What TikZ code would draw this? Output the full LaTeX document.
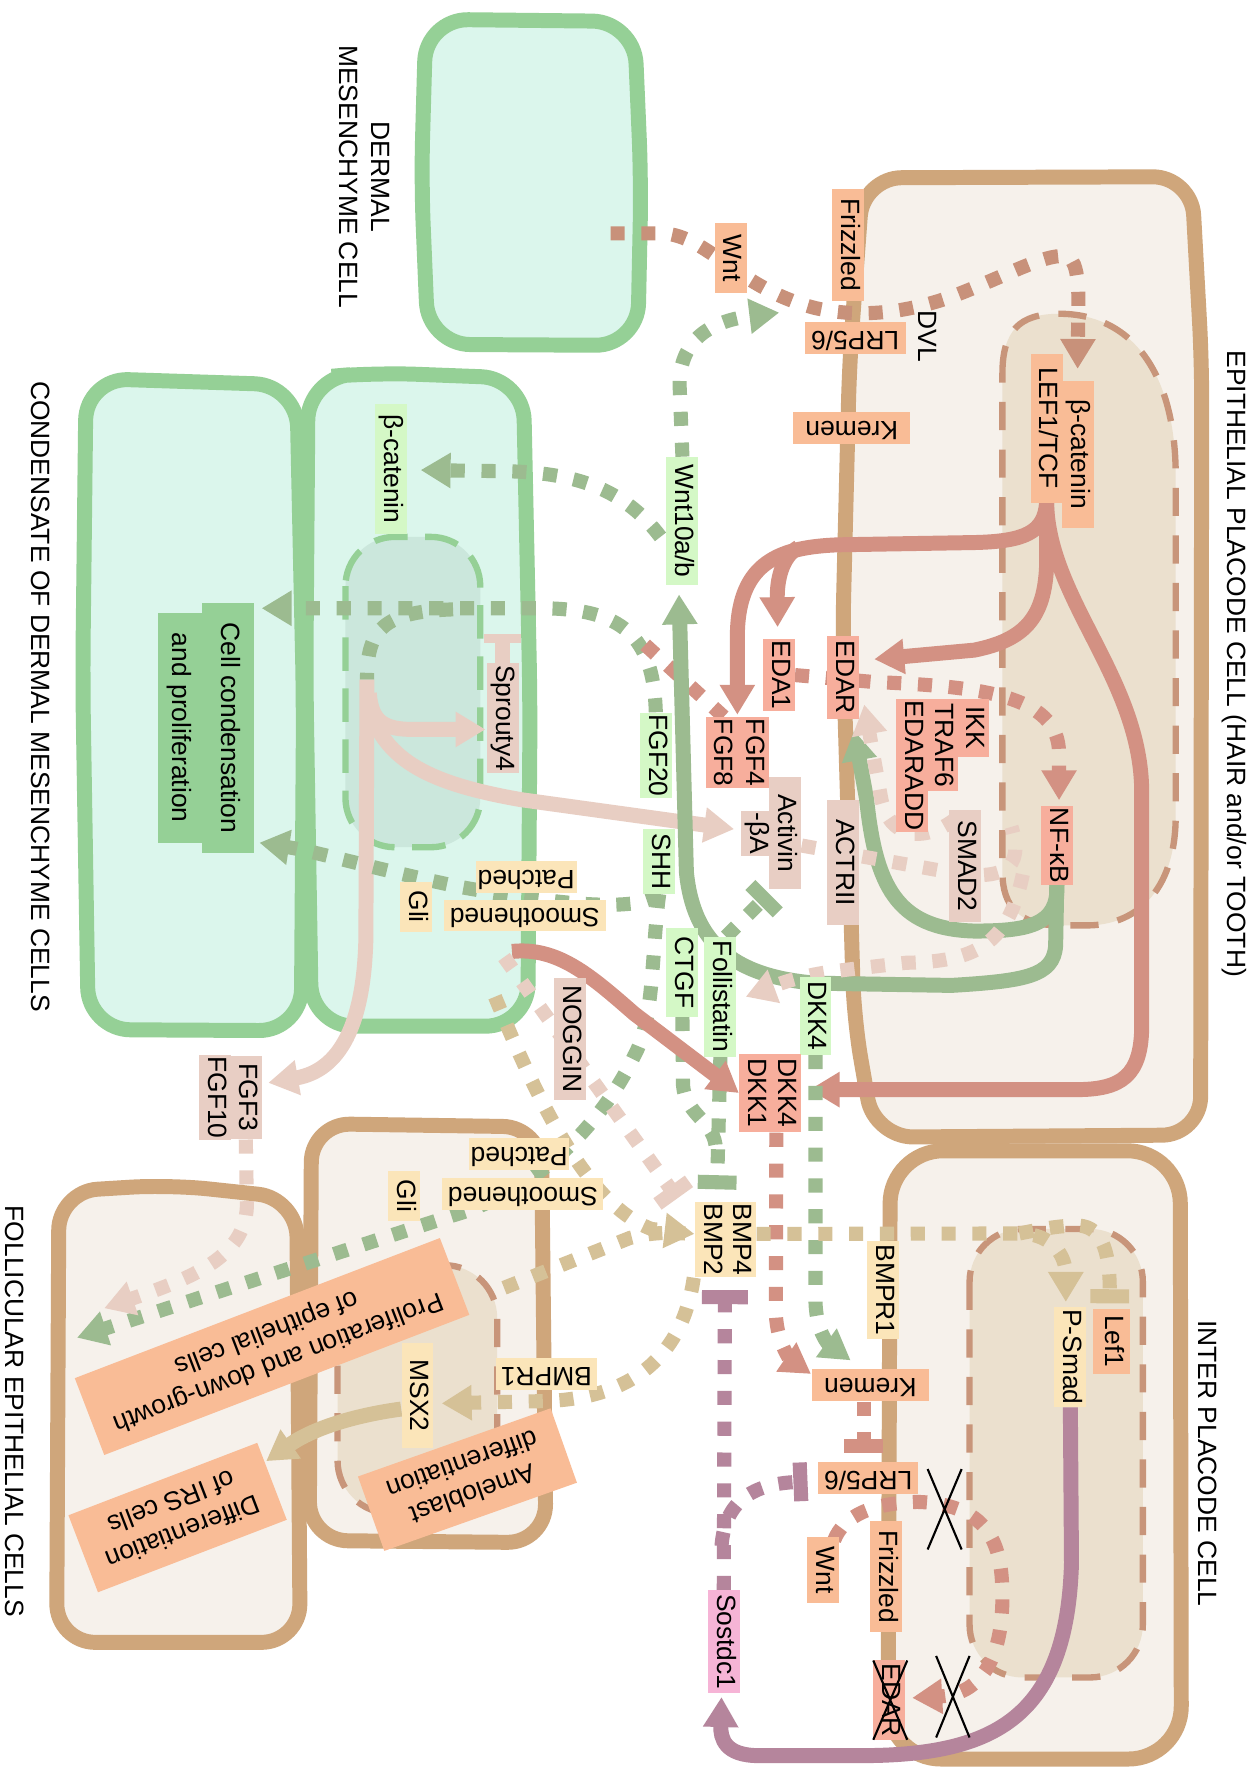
\documentclass[tikz,border=0pt]{standalone}
\usepackage{fontspec}
\setmainfont{Liberation Sans}
\usetikzlibrary{arrows.meta,calc}
\pgfdeclarelayer{cells}
\pgfdeclarelayer{links}
\pgfsetlayers{cells,links,main}

\definecolor{cgline}{HTML}{95D096}
\definecolor{cgfill}{HTML}{DBF6EC}
\definecolor{cgnuc}{HTML}{CBE7DC}
\definecolor{ctline}{HTML}{CFA67B}
\definecolor{ctfill}{HTML}{F6F1EB}
\definecolor{ctnuc}{HTML}{EBE0CE}
\definecolor{cnucdash}{HTML}{C8957A}
\definecolor{csage}{HTML}{9CBB90}
\definecolor{csalmon}{HTML}{D39183}
\definecolor{cwnt}{HTML}{C8917A}
\definecolor{cpale}{HTML}{E8CEC3}
\definecolor{ctan}{HTML}{D5C197}
\definecolor{cmauve}{HTML}{B5859C}
\definecolor{borange}{HTML}{F9BC96}
\definecolor{bsalmon}{HTML}{F7AE9C}
\definecolor{bpale}{HTML}{E8CEC4}
\definecolor{blgreen}{HTML}{D4F8C6}
\definecolor{bgreen}{HTML}{95D096}
\definecolor{byellow}{HTML}{FBE5B9}
\definecolor{bpink}{HTML}{F6B4D6}

\tikzset{
  cellG/.style={draw=cgline, fill=cgfill, line width=8.5pt, rounded corners=24pt},
  cellT/.style={draw=ctline, fill=ctfill, line width=8.5pt, rounded corners=22pt},
  nucG/.style={draw=cgline, fill=cgnuc, line width=3.6pt, dash pattern=on 19pt off 10pt},
  nucT/.style={draw=cnucdash, fill=ctnuc, line width=3.6pt, dash pattern=on 16pt off 11pt},
  solidarr/.style={line width=8.5pt, -{Triangle[width=19pt,length=17pt]}},
  dotline/.style={line width=8pt, dash pattern=on 8pt off 9.5pt},
  dotarr/.style={dotline, -{Triangle[width=19pt,length=17pt]}},
  dotbar/.style={dotline, -{Bar[width=22pt,line width=8pt]}},
  lbl/.style={inner xsep=1pt, inner ysep=2.2pt, text height=10.6pt, text depth=3.1pt},
  vert/.style={rotate=-90},
  flip/.style={rotate=180},
  boxlen/.style={minimum width=#1*0.643pt},
  bigbox/.style={fill=borange, align=center, inner sep=0pt},
  crossmark/.style={black, line width=1.2pt},
}

\begin{document}
\begin{tikzpicture}[x=0.0226cm, y=-0.0226cm, font=\fontsize{15}{18}\selectfont]
\useasboundingbox (0,0) rectangle (1108,1568);

\begin{pgfonlayer}{cells}
\fill[white] (0,0) rectangle (1108,1568);
% dermal mesenchyme cell
\draw[cellG] (376,17) -- (560,19) -- (566,160) -- (563,305) -- (378,304) -- (372,160) -- cycle;
% condensate cells
\draw[cellG] (76,334) -- (262,340) -- (268,620) -- (266,910) -- (78,909) -- (73,600) -- cycle;
\draw[cellG] (272,334) -- (330,329) -- (462,334) -- (468,620) -- (466,906) -- (275,906) -- (270,600) -- cycle;
\draw[nucG, rounded corners=28pt] (305,474) rectangle (424,748);
% epithelial placode cell
\draw[cellT] (762,157) -- (1052,156) -- (1061,320) -- (1060,1002) -- (772,1004) -- (754,900) -- (744,560) -- (750,320) -- cycle;
\draw[nucT] (885,330) .. controls (885,292) and (900,277) .. (935,277) .. controls (1000,277) and (1038,330) .. (1038,420) -- (1038,720) .. controls (1038,790) and (1000,817) .. (960,817) -- (935,817) .. controls (900,817) and (885,800) .. (885,770) -- cycle;
% inter placode cell
\draw[cellT, rounded corners=30pt] (786,1016) -- (1042,1016) -- (1043,1553) -- (784,1553) -- cycle;
\draw[nucT, rounded corners=30pt] (856,1085) rectangle (1009,1481);
% follicular epithelial cells
\draw[cellT] (52,1052) -- (150,1046) -- (262,1058) -- (265,1450) -- (50,1450) -- cycle;
\draw[cellT] (275,992) -- (478,995) -- (482,1362) -- (273,1360) -- cycle;
\draw[nucT, rounded corners=30pt] (298,1117) rectangle (439,1336);
\end{pgfonlayer}

% titles
\node[rotate=-90, align=center] (tDerm) at (322,156) {DERMAL\\MESENCHYME CELL};
\node[rotate=-90] (tCond) at (35.5,615) {CONDENSATE OF DERMAL MESENCHYME CELLS};
\node[rotate=-90] (tEpi) at (1090,586) {EPITHELIAL PLACODE CELL (HAIR and/or TOOTH)};
\node[rotate=-90] (tInter) at (1066,1292) {INTER PLACODE CELL};
\node[rotate=-90] (tFoll) at (13.2,1246) {FOLLICULAR EPITHELIAL CELLS};

% placode (top)
\node[lbl, vert, fill=borange, boxlen=61.5] (wntA) at (645,228) {Wnt};
\node[lbl, vert, fill=borange, boxlen=99] (frzA) at (749,216) {Frizzled};
\node[lbl, flip, fill=borange, boxlen=89] (lrpA) at (755,298.6) {LRP5/6};
\node[lbl, vert] (dvl) at (817,297) {DVL};
\node[lbl, flip, fill=borange, boxlen=103.6] (kremA) at (752,378) {Kremen};
\node[lbl, vert, fill=borange, boxlen=130] (bcatA) at (951.4,401) {β-catenin};
\node[lbl, vert, fill=borange, boxlen=131.5] (lefA) at (924,378) {LEF1/TCF};
\node[lbl, vert, fill=blgreen, boxlen=113] (wnt10) at (602.5,460) {Wnt10a/b};
\node[lbl, vert, fill=bsalmon, boxlen=62] (eda1) at (687.5,596) {EDA1};
\node[lbl, vert, fill=bsalmon, boxlen=61] (fgf4) at (665,664.5) {FGF4};
\node[lbl, vert, fill=bsalmon, boxlen=61] (fgf8) at (637,664.5) {FGF8};
\node[lbl, vert, fill=bpale, boxlen=99] (activ) at (693.4,735.5) {Activin};
\node[lbl, vert, fill=bpale, boxlen=39] (actba) at (668.5,736) {-βA};
\node[lbl, vert, fill=bsalmon, boxlen=72.7] (edarA) at (744.5,598) {EDAR};
\node[lbl, vert, fill=bsalmon, anchor=west, boxlen=111.5] (edaradd) at (805,617) {EDARADD};
\node[lbl, vert, fill=bsalmon, anchor=west, boxlen=81] (traf6) at (832,617) {TRAF6};
\node[lbl, vert, fill=bsalmon, anchor=west, boxlen=50.7] (ikk) at (859,617) {IKK};
\node[lbl, vert, fill=bsalmon, boxlen=69] (nfkb) at (933,746.4) {NF-κB};
\node[lbl, vert, fill=bpale, boxlen=110] (actrii) at (744.5,761.5) {ACTRII};
\node[lbl, vert, fill=bpale, boxlen=99] (smad2) at (852,764.5) {SMAD2};
\node[lbl, vert, fill=blgreen, boxlen=57] (shh) at (582,760.5) {SHH};
\node[lbl, vert, fill=blgreen, boxlen=78] (ctgf) at (602.5,858.5) {CTGF};
\node[lbl, vert, fill=blgreen, boxlen=105.5] (follis) at (636,880) {Follistatin};
\node[lbl, vert, fill=blgreen, boxlen=68.4] (dkkG) at (720,897) {DKK4};
\node[lbl, vert, fill=bsalmon, boxlen=69.5] (dkk4) at (693.4,965) {DKK4};
\node[lbl, vert, fill=bsalmon, boxlen=69.5] (dkk1) at (666.7,965) {DKK1};
\node[lbl, vert, fill=blgreen, boxlen=75] (fgf20) at (579,667) {FGF20};

% condensate
\node[lbl, vert, fill=blgreen, boxlen=115] (bcatB) at (345,414) {β-catenin};
\node[lbl, vert, fill=bpale, boxlen=91] (spry) at (444,634) {Sprouty4};
\node[lbl, vert, fill=bgreen, boxlen=221, minimum height=29.6pt] (cond1) at (201,642.5) {Cell condensation};
\node[lbl, vert, fill=bgreen, boxlen=203, minimum height=25pt] (cond2) at (158.5,642.5) {and proliferation};
\node[lbl, flip, fill=byellow, boxlen=89] (patA) at (464.5,774) {Patched};
\node[lbl, flip, fill=byellow, boxlen=142.7] (smoA) at (463.3,808.3) {Smoothened};
\node[lbl, vert, fill=byellow, boxlen=44] (gliA) at (367,800.5) {Gli};
\node[lbl, vert, fill=bpale, boxlen=107.5] (noggin) at (503.5,917) {NOGGIN};
\node[lbl, vert, fill=bpale, boxlen=73.5] (fgf3) at (217,969) {FGF3};
\node[lbl, vert, fill=bpale, boxlen=73.5] (fgf10) at (190,969) {FGF10};

% follicle
\node[lbl, flip, fill=byellow, boxlen=88.7] (patB) at (458.4,1018.6) {Patched};
\node[lbl, flip, fill=byellow, boxlen=142] (smoB) at (461.6,1054.3) {Smoothened};
\node[lbl, vert, fill=byellow, boxlen=44] (gliB) at (356.5,1055.7) {Gli};
\node[lbl, vert, fill=byellow, boxlen=92] (msx2) at (368.6,1232) {MSX2};
\node[lbl, flip, fill=byellow, boxlen=88.8] (bmpr1B) at (482.4,1213) {BMPR1};
\node[lbl, vert, fill=byellow, boxlen=64] (bmp4) at (653.6,1094.4) {BMP4};
\node[lbl, vert, fill=byellow, boxlen=64] (bmp2) at (627.5,1094.4) {BMP2};
\node[bigbox, rotate=201, minimum width=222pt, minimum height=46.7pt] (prolif) at (240.2,1188.8) {Proliferation and down-growth\\of epithelial cells};
\node[bigbox, rotate=201, minimum width=114.8pt, minimum height=46.8pt] (irs) at (156.8,1339.8) {Differentiation\\of IRS cells};
\node[bigbox, rotate=199.5, minimum width=116pt, minimum height=44.8pt] (amelo) at (412.7,1306.3) {Ameloblast\\differentiation};

% inter placode
\node[lbl, flip, fill=borange, boxlen=103] (kremB) at (768.5,1223) {Kremen};
\node[lbl, flip, fill=borange, boxlen=88.5] (lrpB) at (766.5,1305) {LRP5/6};
\node[lbl, vert, fill=borange, boxlen=98] (frzB) at (782.3,1392) {Frizzled};
\node[lbl, vert, fill=borange, boxlen=58] (wntB) at (726.5,1386) {Wnt};
\node[lbl, vert, fill=bsalmon, boxlen=70] (edarB) at (785,1501) {EDAR};
\node[lbl, vert, fill=byellow, boxlen=87] (bmpr1A) at (779.5,1139) {BMPR1};
\node[lbl, vert, fill=byellow, boxlen=88.5] (psmad) at (945,1198) {P-Smad};
\node[lbl, vert, fill=borange, boxlen=57, minimum height=21pt] (lef1) at (981.7,1184.5) {Lef1};
\node[lbl, vert, fill=bpink, boxlen=91] (sost) at (639,1449.5) {Sostdc1};

\coordinate (wntsrc) at (539,206);
\coordinate (fgfnuc) at (324,600);
\coordinate (fgftop) at (651,631);
\coordinate (nogsrc) at (452,840);
\coordinate (bmpbar) at (633,1050);
\coordinate (sostbar) at (640,1139);

\begin{pgfonlayer}{links}
% Wnt signal to the placode
\draw[dotarr, cwnt] (wntsrc) -- (585,206) .. controls (625,208) and (652,255) .. (720,272) .. controls (760,281) and (800,276) .. (840,262) .. controls (890,243) and (920,225) .. (940,226) .. controls (955,228) and (952,265) .. ($(bcatA.west)+(0,-10)$);
\draw[dotarr, csage] (wnt10.west) -- (600,340) .. controls (600,298) and (630,283) .. (688,276);
\draw[dotarr, csage] ($(wnt10.south)+(-5,14)$) .. controls (550,430) and (505,417) .. (445,416) -- ($(bcatB.north)+(12,1)$);
% FGF20
\draw[dotarr, csage] (fgf20.west) .. controls (577,560) and (548,538) .. (480,537) -- (231,537);
\draw[dotline, csage] (400,538) .. controls (338,540) and (324,556) .. (fgfnuc);
\draw[dotline, csalmon] ($(fgf8.west)+(2,0)$) -- (566,566);
% condensate nucleus outputs
\draw[solidarr, cpale] (fgfnuc) -- (323,830) .. controls (321,905) and (300,945) .. ($(fgf3.north)+(5.5,-13)$);
\draw[solidarr, cpale] (326,612) .. controls (328,638) and (340,644) .. (365,644) -- ($(spry.south)+(-1,10)$);
\draw[solidarr, cpale] (326,625) .. controls (340,672) and (380,692) .. (460,706) -- ($(actba.south)+(-6,-4)$);
\draw[cpale, line width=8.5pt, -{Bar[width=21pt,line width=5.5pt]}] (spry.west) -- ++(0,-26);
% SHH
\draw[dotarr, csage] (shh.east) .. controls (565,805) and (500,800) .. (406,783) .. controls (330,767) and (280,752) .. (229,744);
\draw[dotarr, csage] (shh.east) .. controls (575,840) and (578,900) .. (560,932) .. controls (535,985) and (480,1050) .. (400,1073) -- (68,1181);
\draw[dotarr, cpale] (fgf3.east) -- (218,1065) .. controls (216,1110) and (170,1128) .. (92,1155);
% LEF1/TCF targets
\draw[solidarr, csalmon] (lefA.east) .. controls (922,470) and (905,478) .. (860,479) -- (740,481) .. controls (690,483) and (652,495) .. (651,560) -- (fgftop);
\draw[solidarr, csalmon] (705,483) .. controls (690,492) and (686,512) .. ($(eda1.west)+(-1,-10)$);
\draw[solidarr, csalmon] (lefA.east) -- (924,500) .. controls (922,545) and (905,565) .. (860,574) -- ($(edarA.north)+(13,-16)$);
\draw[solidarr, csalmon] (lefA.east) .. controls (926,530) and (1008,600) .. (1008,700) -- (1008,905) .. controls (1008,950) and (990,962) .. (950,962) -- ($(dkk4.north)+(7,-3)$);
% NF-kB targets
\draw[solidarr, csage] (nfkb.east) .. controls (935,818) and (905,822) .. (860,822) .. controls (790,820) and (773,780) .. (765,705) -- (754,645);
\draw[solidarr, csage] (nfkb.east) -- (932,835) .. controls (930,862) and (905,866) .. (840,870) -- (720,868) .. controls (645,862) and (612,830) .. (606,770) -- ($(wnt10.east)+(-3,8)$);
\draw[dotarr, csalmon] (eda1.north) -- (770,602) .. controls (860,606) and (935,612) .. (935,665) -- ($(nfkb.west)+(2,-5)$);
% activin loop
\draw[dotline, cpale] ($(activ.north)+(0,11)$) -- (838,770) .. controls (885,778) and (905,768) .. (893,730);
\draw[dotarr, cpale] ($(smad2.west)+(-8,8)$) .. controls (815,745) and (785,740) .. (778,705) -- (763,622);
\draw[dotarr, cpale] (903,772) .. controls (890,835) and (860,849) .. (800,850) -- (740,857) .. controls (700,862) and (680,872) .. ($(follis.north)+(8,0)$);
\draw[dotbar, csage] ($(follis.west)+(5,0)$) -- (679,789);
% BMP inhibitors
\draw[dotline, csage] (ctgf.east) -- (603,958) .. controls (605,985) and (632,990) .. (632,1015);
\draw[dotbar, csage] (follis.east) -- (bmpbar);
\draw[dotarr, csage] (dkkG.east) -- (720,1150) .. controls (721,1178) and (733,1188) .. (751,1201);
\draw[dotarr, csalmon] ($(dkk4.east)+(-8,0)$) -- (685,1160) .. controls (686,1188) and (700,1202) .. (716,1213);
\draw[solidarr, csalmon] (nogsrc) .. controls (492,836) and (520,860) .. (560,895) -- (dkk1.south);
\draw[dotbar, cpale] (445,845) -- (598,1058);
% BMP
\draw[dotarr, ctan] (437,880) .. controls (470,960) and (515,1062) .. (575,1085) -- ($(bmp2.south)+(0,-5)$);
\draw[dotline, ctan] (445,1137) -- (556,1093) .. controls (575,1088) and (590,1088) .. (605,1089);
\draw[dotarr, ctan] ($(bmp2.east)+(-15,0)$) .. controls (603,1195) and (560,1235) .. (480,1237) -- ($(msx2.north)+(7,7)$);
\draw[dotarr, ctan] ($(bmp4.north)+(0,-5)$) -- (900,1089) .. controls (930,1089) and (941,1110) .. ($(psmad.west)+(-4,-4)$);
\draw[dotbar, ctan] (900,1089) .. controls (920,1085) and (935,1082) .. (952,1082) .. controls (975,1083) and (980,1110) .. ($(lef1.west)+(-2,-5)$);
\draw[solidarr, ctan] ($(msx2.south)+(0,12)$) .. controls (310,1250) and (275,1262) .. (235,1290);
% Sostdc1
\draw[solidarr, cmauve] (psmad.east) -- (946,1380) .. controls (942,1515) and (880,1550) .. (760,1550) -- (670,1550) .. controls (640,1550) and (636,1535) .. ($(sost.east)+(-2,3)$);
\draw[dotline, cmauve, -{Bar[width=26pt,line width=8pt]}] (sost.west) -- (sostbar);
\draw[dotbar, cmauve] (637,1365) .. controls (640,1325) and (665,1310) .. ($(lrpB.east)+(-9,3)$);
% Wnt in the inter placode cell
\draw[dotbar, csalmon] ($(kremB.north)+(-6,0)$) -- ($(lrpB.south)+(-4,-8)$);
\draw[dotarr, csalmon] ($(wntB.west)+(10,3)$) .. controls (745,1338) and (770,1327) .. (810,1326) .. controls (878,1328) and (885,1370) .. (885,1410) .. controls (885,1470) and (862,1496) .. ($(edarB.north)+(6,-2)$);
\end{pgfonlayer}

% blocked steps
\draw[crossmark] (771,1466) -- (801,1536) (801,1466) -- (771,1536);
\draw[crossmark] (819,1297) -- (849,1368) (849,1297) -- (819,1368);
\draw[crossmark] (826.5,1462) -- (856,1534) (856,1462) -- (826.5,1534);
\end{tikzpicture}
\end{document}
